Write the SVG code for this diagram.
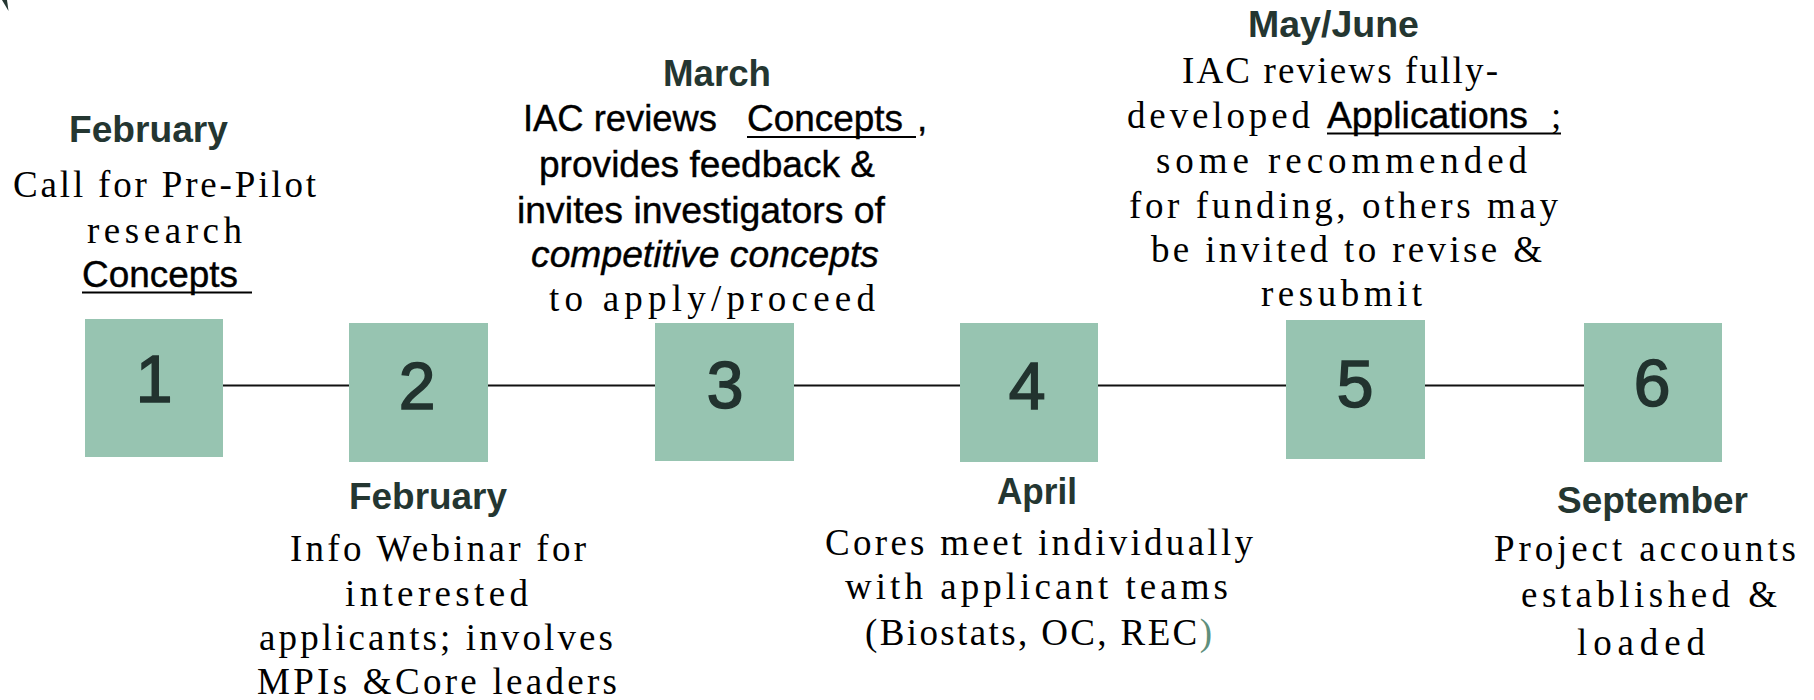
<svg xmlns="http://www.w3.org/2000/svg" width="1814" height="700" viewBox="0 0 1814 700">
<style>
.box{fill:#97c4b1}
.num{font-family:"Liberation Sans",Arial,sans-serif;font-size:66px;fill:#22332f;stroke:#22332f;stroke-width:1.6px;text-anchor:middle}
.mon{font-family:"Liberation Sans",Arial,sans-serif;font-size:37px;font-weight:bold;fill:#243631}
.ser{font-family:"Liberation Serif","Times New Roman",serif;font-size:37px;fill:#000}
.san{font-family:"Liberation Sans",Arial,sans-serif;font-size:37px;fill:#000;stroke:#000;stroke-width:0.4px}
.ita{font-style:italic}
.ul{stroke:#000;stroke-width:2}
.conn{stroke:#111;stroke-width:2;fill:none}
</style>
<rect width="1814" height="700" fill="#fff"/>
<polygon points="2,0 7,0 8.5,11" fill="#243631"/>
<g id="connectors">
<line class="conn" x1="223" y1="385.5" x2="349" y2="385.5"/>
<line class="conn" x1="488" y1="385.5" x2="655" y2="385.5"/>
<line class="conn" x1="794" y1="385.5" x2="960" y2="385.5"/>
<line class="conn" x1="1098" y1="385.5" x2="1286" y2="385.5"/>
<line class="conn" x1="1425" y1="385.5" x2="1584" y2="385.5"/>
</g>
<g id="node1">
<rect class="box" x="85" y="319" width="138" height="138"/>
<text class="num" x="154" y="402">1</text>
<text class="mon" x="69" y="142" textLength="159" lengthAdjust="spacingAndGlyphs">February</text>
<text class="ser" x="13" y="197" textLength="303" lengthAdjust="spacing">Call for Pre-Pilot</text>
<text class="ser" x="87" y="243" textLength="155" lengthAdjust="spacing">research</text>
<text class="san" x="82" y="287" textLength="156" lengthAdjust="spacingAndGlyphs">Concepts</text>
<line class="ul" x1="82" y1="292.5" x2="252" y2="292.5"/>
</g>
<g id="node2">
<rect class="box" x="349" y="323" width="139" height="139"/>
<text class="num" x="417" y="409">2</text>
<text class="mon" x="349" y="509" textLength="158" lengthAdjust="spacingAndGlyphs">February</text>
<text class="ser" x="290" y="561" textLength="296" lengthAdjust="spacing">Info Webinar for</text>
<text class="ser" x="345" y="606" textLength="183" lengthAdjust="spacing">interested</text>
<text class="ser" x="259" y="650" textLength="354" lengthAdjust="spacing">applicants; involves</text>
<text class="ser" x="257" y="694" textLength="360" lengthAdjust="spacing">MPIs &amp;Core leaders</text>
</g>
<g id="node3">
<rect class="box" x="655" y="323" width="139" height="138"/>
<text class="num" x="725" y="408">3</text>
<text class="mon" x="663" y="86" textLength="108" lengthAdjust="spacingAndGlyphs">March</text>
<text class="san" x="523" y="131" textLength="194" lengthAdjust="spacingAndGlyphs">IAC reviews</text>
<text class="san" x="747" y="131" textLength="156" lengthAdjust="spacingAndGlyphs">Concepts</text>
<line class="ul" x1="747" y1="137" x2="916" y2="137"/>
<text class="san" x="917" y="131">,</text>
<text class="san" x="539" y="177" textLength="336" lengthAdjust="spacingAndGlyphs">provides feedback &amp;</text>
<text class="san" x="517" y="223" textLength="368" lengthAdjust="spacingAndGlyphs">invites investigators of</text>
<text class="san ita" x="531" y="267" textLength="348" lengthAdjust="spacingAndGlyphs">competitive concepts</text>
<text class="ser" x="549" y="311" textLength="326" lengthAdjust="spacing">to apply/proceed</text>
</g>
<g id="node4">
<rect class="box" x="960" y="323" width="138" height="139"/>
<text class="num" x="1027" y="409">4</text>
<text class="mon" x="997" y="504" textLength="80" lengthAdjust="spacingAndGlyphs">April</text>
<text class="ser" x="825" y="555" textLength="428" lengthAdjust="spacing">Cores meet individually</text>
<text class="ser" x="845" y="599" textLength="383" lengthAdjust="spacing">with applicant teams</text>
<text class="ser" x="865" y="645" textLength="347" lengthAdjust="spacing">(Biostats, OC, REC<tspan fill="#5f8f7c">)</tspan></text>
</g>
<g id="node5">
<rect class="box" x="1286" y="320" width="139" height="139"/>
<text class="num" x="1355" y="407">5</text>
<text class="mon" x="1248" y="37" textLength="171" lengthAdjust="spacingAndGlyphs">May/June</text>
<text class="ser" x="1182" y="83" textLength="316" lengthAdjust="spacing">IAC reviews fully-</text>
<text class="ser" x="1127" y="128" textLength="183" lengthAdjust="spacing">developed</text>
<text class="san" x="1327" y="128" textLength="201" lengthAdjust="spacingAndGlyphs">Applications</text>
<line class="ul" x1="1327" y1="133.5" x2="1561" y2="133.5"/>
<text class="ser" x="1551" y="128">;</text>
<text class="ser" x="1156" y="173" textLength="371" lengthAdjust="spacing">some recommended</text>
<text class="ser" x="1129" y="218" textLength="429" lengthAdjust="spacing">for funding, others may</text>
<text class="ser" x="1151" y="262" textLength="391" lengthAdjust="spacing">be invited to revise &amp;</text>
<text class="ser" x="1261" y="306" textLength="161" lengthAdjust="spacing">resubmit</text>
</g>
<g id="node6">
<rect class="box" x="1584" y="323" width="138" height="139"/>
<text class="num" x="1652" y="406">6</text>
<text class="mon" x="1557" y="513" textLength="191" lengthAdjust="spacingAndGlyphs">September</text>
<text class="ser" x="1494" y="561" textLength="302" lengthAdjust="spacing">Project accounts</text>
<text class="ser" x="1521" y="607" textLength="256" lengthAdjust="spacing">established &amp;</text>
<text class="ser" x="1577" y="655" textLength="128" lengthAdjust="spacing">loaded</text>
</g>
</svg>
